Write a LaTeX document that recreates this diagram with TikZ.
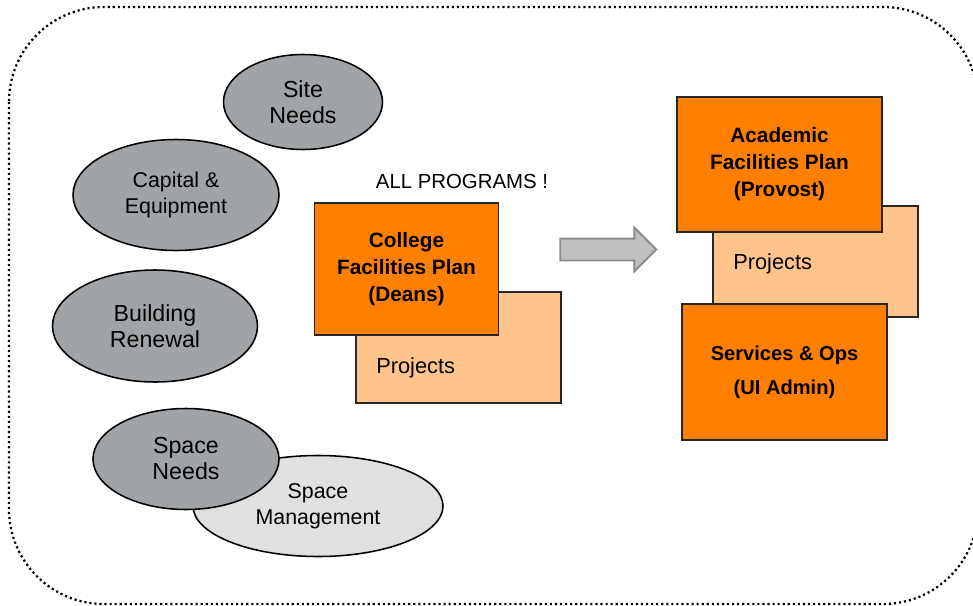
\documentclass[tikz,border=0pt]{standalone}
\usepackage{fontspec}
\setmainfont{Liberation Sans}
\usepackage{tikz}
\usetikzlibrary{positioning,shapes.geometric,shapes.arrows}
\definecolor{planorange}{RGB}{255,128,0}
\definecolor{projorange}{RGB}{255,196,140}
\definecolor{needgray}{RGB}{160,164,166}
\definecolor{mgmtgray}{RGB}{223,224,223}
\definecolor{arrowgray}{RGB}{191,192,191}
\definecolor{arrowedge}{RGB}{140,140,140}

\begin{document}
\begin{tikzpicture}[
    node distance=2cm,
    need/.style={
		ellipse,
		draw=black,
		line width=1.1pt,
		fill=needgray,
		text centered,
		align=center,
		inner sep=0pt,
		font=\fontsize{16.5}{18.5}\selectfont
	},
	plan/.style={
		rectangle,
		draw=black!85,
		line width=0.9pt,
		fill=planorange,
		text centered,
		align=center,
		inner sep=0pt,
		minimum width=5.125cm,
		font=\fontsize{14.8}{19.2}\selectfont\bfseries
	},
	projects/.style={
		rectangle,
		draw=black!85,
		line width=0.9pt,
		fill=projorange,
		inner sep=0pt,
		minimum width=5.125cm,
		minimum height=2.775cm
	},
	projlabel/.style={
		anchor=west,
		inner sep=0pt,
		font=\fontsize{15.5}{18}\selectfont
	}
  ]

 \useasboundingbox (0,0) rectangle (24.325,-15.15);

% // the frame
 \draw [line width=1.6pt, dash pattern=on 1.5pt off 2.1pt, rounded corners=2.375cm]
   (0.225,-0.175) rectangle (24.45,-15.1);

% // the needs
 \node [need, minimum width=3.975cm, minimum height=2.375cm] (site) at (7.575,-2.55) {Site\\Needs};
 \node [need, minimum width=5.15cm, minimum height=2.775cm,
   font=\fontsize{15.2}{18.3}\selectfont] (capital) at (4.4,-4.875) {Capital \&\\Equipment};
 \node [need, minimum width=5.125cm, minimum height=2.8cm] (renewal) at (3.875,-8.15) {Building\\Renewal};
 \node [need, fill=mgmtgray, minimum width=6.25cm, minimum height=2.525cm,
   font=\fontsize{15.2}{18.3}\selectfont] (spacemgmt) at (7.95,-12.65) {Space\\Management};
 \node [need, minimum width=4.65cm, minimum height=2.525cm] (spaceneeds) at (4.65,-11.475) {Space\\Needs};

% // college level
 \node [font=\fontsize{14.5}{17}\selectfont] (allprog) at (11.55,-4.525) {ALL PROGRAMS !};
 \node [projects, below of=allprog, xshift=-0.0875cm, yshift=-2.1625cm] (proj1) {};
 \node [projlabel] (proj1txt) at (9.4,-9.2) {Projects};
 \node [plan, minimum width=4.6cm, minimum height=3.3cm] (college) at (10.1625,-6.725)
   {College\\Facilities Plan\\(Deans)};

 \node [single arrow, draw=arrowedge, line width=1.3pt, fill=arrowgray,
   minimum height=2.4cm, inner xsep=0pt, inner ysep=0.25cm,
   single arrow head extend=0.275cm] (flow) at (15.07,-6.2375) {};

% // university level
 \node [projects] (proj2) at (20.3875,-6.5375) {};
 \node [projlabel] (proj2txt) at (18.325,-6.6) {Projects};
 \node [plan, minimum height=3.375cm] (academic) at (19.4875,-4.1125)
   {Academic\\Facilities Plan\\(Provost)};
 \node [plan, minimum height=3.4cm, font=\fontsize{14.3}{24.2}\selectfont\bfseries,
   below of=academic, yshift=-3.1875cm, xshift=0.125cm] (services)
   {Services \& Ops\\(UI Admin)};

\end{tikzpicture}
\end{document}
